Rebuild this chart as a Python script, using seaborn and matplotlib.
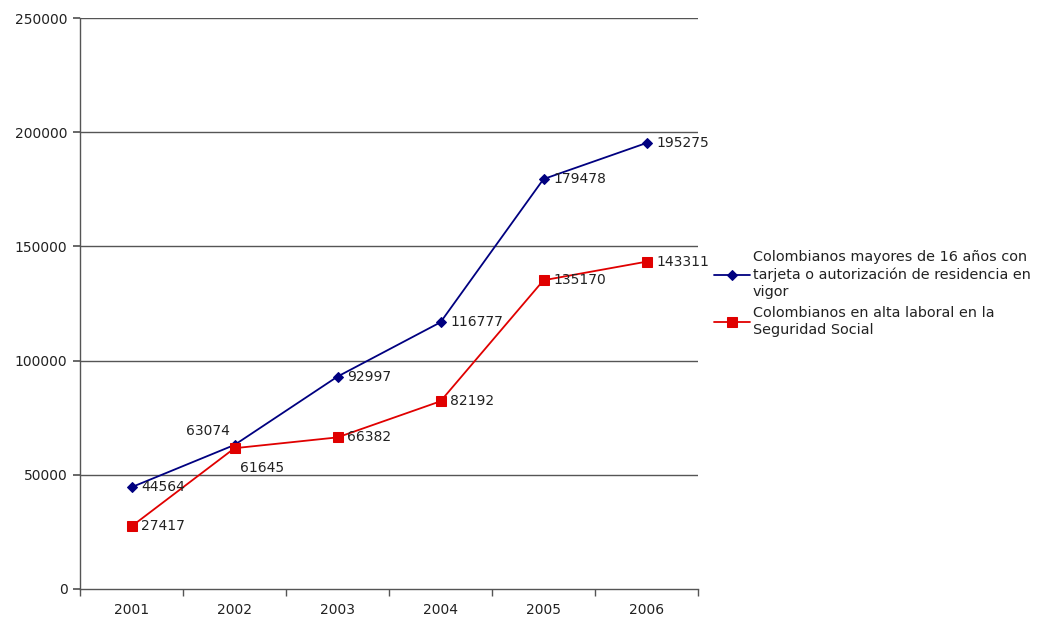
import matplotlib
matplotlib.use("Agg")
import matplotlib.pyplot as plt
import seaborn as sns
import pandas as pd

years = ["2001", "2002", "2003", "2004", "2005", "2006"]
tarjeta = [44564, 63074, 92997, 116777, 179478, 195275]
alta = [27417, 61645, 66382, 82192, 135170, 143311]
label_tarjeta = "Colombianos mayores de 16 años con\ntarjeta o autorización de residencia en\nvigor"
label_alta = "Colombianos en alta laboral en la\nSeguridad Social"
yticks = [0, 50000, 100000, 150000, 200000, 250000]

sns.set_theme(style="white")
plt.rcParams['font.family'] = ['DejaVu Sans']

fig = plt.figure(figsize=(10.37, 6.17), dpi=100)
ax = fig.add_axes([80/1037, 1-589/617, (698-80)/1037, (589-18)/617])

x = list(range(len(years)))
sns.lineplot(x=x, y=tarjeta, ax=ax, color="#000080", marker="D", markersize=5,
             markeredgecolor="#000080", linewidth=1.3, label=label_tarjeta)
sns.lineplot(x=x, y=alta, ax=ax, color="#e00000", marker="s", markersize=7.5,
             markeredgecolor="#e00000", linewidth=1.3, label=label_alta)

ax.set_xlim(-0.5, 5.5)
ax.set_ylim(0, 250000)
ax.set_yticks(yticks)
ax.set_yticklabels([str(t) for t in yticks])
ax.set_xticks(x)
ax.set_xticklabels(years)
ax.set_xticks([i - 0.5 for i in range(len(years) + 1)], minor=True)
ax.tick_params(axis="x", which="major", length=0, pad=10, labelsize=10, colors="#222222")
ax.tick_params(axis="x", which="minor", length=5, direction="out", color="#555555", bottom=True)
ax.tick_params(axis="y", length=5, direction="out", color="#555555", left=True, labelsize=10, labelcolor="#222222", pad=4)
for yv in yticks[1:]:
    ax.axhline(yv, color="#555555", linewidth=1, zorder=0)
for s in ["top", "right"]:
    ax.spines[s].set_visible(False)
for s in ["left", "bottom"]:
    ax.spines[s].set_color("#555555")
    ax.spines[s].set_linewidth(1)

fs = 10
for i, v in enumerate(tarjeta):
    if i == 1:
        ax.annotate(str(v), (i, v), xytext=(-3, 5), textcoords="offset points",
                    ha="right", va="bottom", fontsize=fs, color="#222222")
    else:
        ax.annotate(str(v), (i, v), xytext=(7, 0), textcoords="offset points",
                    ha="left", va="center", fontsize=fs, color="#222222")
for i, v in enumerate(alta):
    if i == 1:
        ax.annotate(str(v), (i, v), xytext=(4, -9), textcoords="offset points",
                    ha="left", va="top", fontsize=fs, color="#222222")
    else:
        ax.annotate(str(v), (i, v), xytext=(7, 0), textcoords="offset points",
                    ha="left", va="center", fontsize=fs, color="#222222")

ax.get_legend().remove()
h, l = ax.get_legend_handles_labels()
leg = fig.legend(h, l, loc="upper left", bbox_to_anchor=(714/1037, 1-250/617),
                 frameon=False, fontsize=10.4, handlelength=2.5, handletextpad=0.2,
                 labelspacing=0.45, borderaxespad=0, borderpad=0)
for t in leg.get_texts():
    t.set_linespacing(1.3)
    t.set_color("#222222")

fig.savefig("out.png", dpi=100)
